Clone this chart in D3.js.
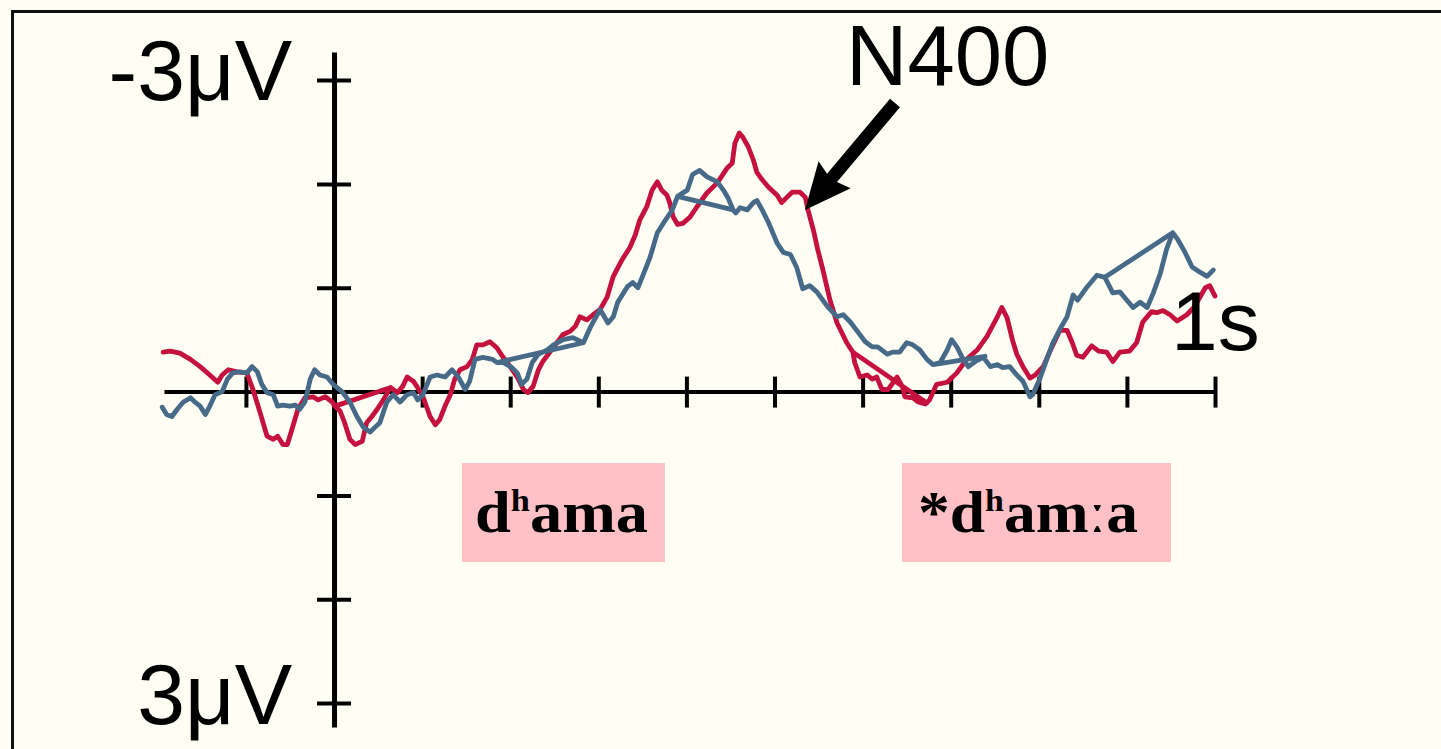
<!DOCTYPE html>
<html>
<head>
<meta charset="utf-8">
<script src="https://cdn.jsdelivr.net/npm/d3@7"></script>
<style>
  html, body { margin: 0; padding: 0; background: #FFFEF5; overflow: hidden; }
  svg { display: block; }
</style>
</head>
<body>
<svg id="chart" width="1441" height="749"></svg>
<script>
// Tick positions: time in ms, amplitude in microvolts (negative plotted upward)
const timeTicks = [-100, 0, 100, 200, 300, 400, 500, 600, 700, 800, 900, 1000];
const voltTicks = [-3, -2, -1, 0, 1, 2, 3];

// Grand-average ERP traces as [time ms, amplitude µV] in drawing order
const redTrace = [
  [-194,-0.38],[-186,-0.39],[-175,-0.37],[-163,-0.31],[-152,-0.24],[-141,-0.16],[-132,-0.09],[-127,-0.16],
  [-120,-0.21],[-110,-0.19],[-99,-0.18],[-92,-0.02],[-84,0.20],[-76,0.43],[-69,0.46],[-64,0.43],[-58,0.51],
  [-53,0.51],[-48,0.37],[-41,0.17],[-33,0.06],[-24,0.05],[-18,0.08],[-10,0.05],[-2,0.10],[1,0.14],[61,-0.03],
  [1,0.14],[7,0.19],[12,0.30],[18,0.46],[24,0.51],[32,0.48],[37,0.30],[43,0.24],[49,0.17],[56,0.08],[64,-0.04],
  [72,0.01],[78,-0.05],[83,-0.14],[90,-0.10],[94,-0.05],[101,0.05],[109,0.24],[115,0.32],[120,0.27],[126,0.14],
  [132,0.03],[137,-0.12],[143,-0.21],[151,-0.24],[157,-0.31],[162,-0.45],[169,-0.45],[177,-0.48],[185,-0.42],
  [192,-0.33],[200,-0.24],[208,-0.14],[215,-0.02],[220,0.01],[226,-0.05],[232,-0.21],[237,-0.29],[245,-0.38],
  [253,-0.47],[260,-0.55],[268,-0.58],[274,-0.63],[279,-0.72],[287,-0.69],[294,-0.74],[302,-0.79],[310,-0.91],
  [317,-1.11],[327,-1.27],[336,-1.39],[342,-1.51],[347,-1.65],[355,-1.78],[361,-1.94],[367,-2.02],[372,-1.94],
  [378,-1.89],[381,-1.82],[385,-1.68],[390,-1.61],[396,-1.62],[404,-1.68],[412,-1.78],[423,-1.91],[435,-2.01],
  [446,-2.15],[452,-2.20],[455,-2.39],[460,-2.49],[464,-2.45],[470,-2.36],[476,-2.23],[480,-2.11],[486,-2.04],
  [493,-1.97],[503,-1.89],[508,-1.82],[514,-1.87],[520,-1.92],[529,-1.92],[535,-1.87],[538,-1.75],[544,-1.56],
  [549,-1.37],[555,-1.17],[563,-0.88],[571,-0.66],[582,-0.47],[589,-0.38],[673,0.11],[589,-0.38],[591,-0.28],
  [597,-0.14],[605,-0.16],[611,-0.12],[616,-0.14],[622,-0.02],[629,-0.02],[639,-0.14],[645,-0.05],[648,0.05],
  [657,0.06],[663,0.10],[671,0.12],[676,0.08],[684,-0.07],[696,-0.09],[707,-0.18],[718,-0.31],[730,-0.40],
  [741,-0.53],[753,-0.72],[758,-0.81],[764,-0.71],[770,-0.50],[775,-0.36],[782,-0.24],[790,-0.13],[796,-0.16],
  [805,-0.24],[816,-0.45],[824,-0.59],[832,-0.59],[838,-0.47],[843,-0.35],[850,-0.33],[860,-0.44],[868,-0.39],
  [877,-0.38],[884,-0.29],[892,-0.38],[903,-0.39],[911,-0.47],[918,-0.67],[928,-0.77],[934,-0.76],[941,-0.78],
  [949,-0.74],[957,-0.68],[968,-0.74],[976,-0.81],[983,-0.91],[989,-1.00],[994,-1.02],[1000,-0.92]
];

const blueTrace = [
  [-195,0.15],[-190,0.22],[-184,0.24],[-178,0.17],[-171,0.10],[-163,0.06],[-158,0.10],[-152,0.14],[-146,0.22],
  [-141,0.14],[-135,0.03],[-127,0.00],[-121,-0.12],[-115,-0.18],[-107,-0.19],[-99,-0.18],[-93,-0.24],[-87,-0.19],
  [-82,-0.07],[-76,0.01],[-69,0.03],[-64,0.14],[-58,0.13],[-50,0.14],[-44,0.13],[-39,0.17],[-33,0.10],[-27,-0.12],
  [-22,-0.21],[-16,-0.16],[-8,-0.14],[-1,-0.07],[9,0.00],[18,0.10],[26,0.24],[33,0.34],[41,0.39],[47,0.34],
  [52,0.30],[56,0.20],[60,0.10],[67,0.03],[75,0.10],[83,0.03],[90,0.01],[95,0.08],[101,0.03],[109,-0.14],
  [117,-0.16],[126,-0.14],[134,-0.21],[141,-0.14],[149,-0.02],[154,-0.10],[160,-0.31],[169,-0.33],[180,-0.31],
  [185,-0.28],[283,-0.47],[185,-0.28],[192,-0.28],[202,-0.23],[208,-0.18],[213,-0.07],[219,-0.12],[225,-0.28],
  [232,-0.36],[242,-0.40],[249,-0.45],[260,-0.50],[271,-0.52],[283,-0.47],[291,-0.62],[302,-0.79],[311,-0.66],
  [317,-0.72],[322,-0.86],[333,-1.01],[339,-1.05],[345,-1.00],[353,-1.17],[359,-1.30],[367,-1.53],[376,-1.65],
  [384,-1.75],[390,-1.88],[453,-1.75],[390,-1.88],[401,-1.94],[407,-2.09],[415,-2.13],[423,-2.07],[435,-2.02],
  [442,-1.94],[447,-1.87],[453,-1.75],[456,-1.72],[461,-1.77],[469,-1.75],[476,-1.82],[480,-1.84],[486,-1.75],
  [493,-1.63],[503,-1.43],[510,-1.34],[518,-1.32],[525,-1.20],[532,-0.99],[540,-1.02],[548,-0.96],[560,-0.82],
  [571,-0.72],[578,-0.74],[586,-0.67],[595,-0.57],[603,-0.48],[611,-0.43],[617,-0.43],[628,-0.36],[634,-0.38],
  [642,-0.38],[650,-0.47],[657,-0.45],[665,-0.40],[673,-0.31],[680,-0.26],[739,-0.34],[680,-0.26],[688,-0.28],
  [696,-0.40],[701,-0.50],[707,-0.43],[713,-0.33],[720,-0.24],[728,-0.29],[737,-0.33],[745,-0.24],[753,-0.26],
  [759,-0.23],[767,-0.24],[775,-0.16],[782,-0.10],[790,0.05],[793,0.03],[801,-0.12],[809,-0.31],[816,-0.47],
  [824,-0.60],[832,-0.72],[839,-0.93],[844,-0.88],[855,-1.01],[866,-1.12],[875,-1.10],[952,-1.53],[875,-1.10],
  [884,-0.95],[892,-0.96],[900,-0.88],[907,-0.81],[915,-0.86],[923,-0.81],[930,-0.95],[938,-1.14],[945,-1.37],
  [952,-1.53],[958,-1.46],[966,-1.34],[974,-1.20],[983,-1.15],[991,-1.11],[998,-1.17]
];

// Stimulus words shown under the time axis: base, superscript, rest
const stimulusWords = [
  { lead: "d",  sup: "h", tail: "ama" },
  { lead: "*d", sup: "h", tail: "amːa" }
];

const svg = d3.select("#chart");
const W = 1441, H = 749;

svg.append("rect").attr("width", W).attr("height", H).attr("fill", "#FFFEF5");
// frame (open to the right and bottom edges)
svg.append("rect")
  .attr("x", 12.5).attr("y", 11.5).attr("width", W + 20).attr("height", H + 20)
  .attr("fill", "none").attr("stroke", "#111").attr("stroke-width", 3);

const x = d3.scaleLinear().domain([-193, 1000]).range([164, 1215]);
const y = d3.scaleLinear().domain([-3.27, 3.23]).range([52, 727]);

// time axis, ticks crossing the line
svg.append("g")
  .attr("transform", `translate(0,${y(0)})`)
  .attr("color", "#000")
  .call(d3.axisBottom(x).tickValues(timeTicks).tickSize(16).tickSizeOuter(0).tickFormat(""))
  .call(g => g.selectAll(".tick line").attr("y1", -15).attr("stroke-width", 4))
  .call(g => g.select(".domain").attr("stroke-width", 4));

// amplitude axis through t = 0
svg.append("g")
  .attr("transform", `translate(${x(0)},0)`)
  .attr("color", "#000")
  .call(d3.axisLeft(y).tickValues(voltTicks).tickSize(17).tickSizeOuter(0).tickFormat(""))
  .call(g => g.selectAll(".tick line").attr("x1", 17).attr("stroke-width", 4))
  .call(g => g.select(".domain").attr("stroke-width", 5));

const line = d3.line().x(d => x(d[0])).y(d => y(d[1]));

svg.append("path").datum(redTrace)
  .attr("d", line).attr("fill", "none")
  .attr("stroke", "#C4113D").attr("stroke-width", 4.8)
  .attr("stroke-linejoin", "round").attr("stroke-linecap", "round");

svg.append("path").datum(blueTrace)
  .attr("d", line).attr("fill", "none")
  .attr("stroke", "#466A88").attr("stroke-width", 4.8)
  .attr("stroke-linejoin", "round").attr("stroke-linecap", "round");

// axis captions
const sans = "'Liberation Sans', Arial, sans-serif";
svg.append("text").attr("x", 292).attr("y", 100).attr("text-anchor", "end")
  .attr("font-family", sans).attr("font-size", 86).text("-3μV");
svg.append("text").attr("x", 292).attr("y", 724).attr("text-anchor", "end")
  .attr("font-family", sans).attr("font-size", 86).text("3μV");
svg.append("text").attr("x", 1171).attr("y", 350)
  .attr("font-family", sans).attr("font-size", 84).text("1s");
svg.append("text").attr("x", 846).attr("y", 85)
  .attr("font-family", sans).attr("font-size", 85).text("N400");

// arrow pointing at the N400 peak
(function () {
  const tail = [895, 103], tip = [805, 210];
  const dx = tip[0] - tail[0], dy = tip[1] - tail[1];
  const len = Math.hypot(dx, dy);
  const ux = dx / len, uy = dy / len, nx = -uy, ny = ux;
  const headLen = 46, headHalf = 21, shaftHalf = 6.5;
  const bx = tip[0] - ux * headLen, by = tip[1] - uy * headLen;
  const pts = [
    [tail[0] + nx * shaftHalf, tail[1] + ny * shaftHalf],
    [bx + ux * 4 + nx * shaftHalf, by + uy * 4 + ny * shaftHalf],
    [bx + nx * headHalf, by + ny * headHalf],
    tip,
    [bx - nx * headHalf, by - ny * headHalf],
    [bx + ux * 4 - nx * shaftHalf, by + uy * 4 - ny * shaftHalf],
    [tail[0] - nx * shaftHalf, tail[1] - ny * shaftHalf]
  ];
  svg.append("path").attr("d", d3.line()(pts) + "Z").attr("fill", "#000");
})();

// stimulus word boxes
const boxes = [
  { x: 462, w: 203, tx: 475, tw: 173 },
  { x: 902, w: 269, tx: 918, tw: 220 }
];
stimulusWords.forEach((wd, i) => {
  const b = boxes[i];
  svg.append("rect").attr("x", b.x).attr("y", 463).attr("width", b.w).attr("height", 99)
    .attr("fill", "#FFC0C6");
  const t = svg.append("text").attr("x", b.tx).attr("y", 532)
    .attr("font-family", "'Liberation Serif', 'Times New Roman', serif")
    .attr("font-weight", "bold").attr("font-size", 60)
    .attr("textLength", b.tw).attr("lengthAdjust", "spacingAndGlyphs");
  t.append("tspan").text(wd.lead);
  t.append("tspan").attr("font-size", 32).attr("dy", -21).text(wd.sup);
  t.append("tspan").attr("dy", 21).text(wd.tail);
});
</script>
</body>
</html>
